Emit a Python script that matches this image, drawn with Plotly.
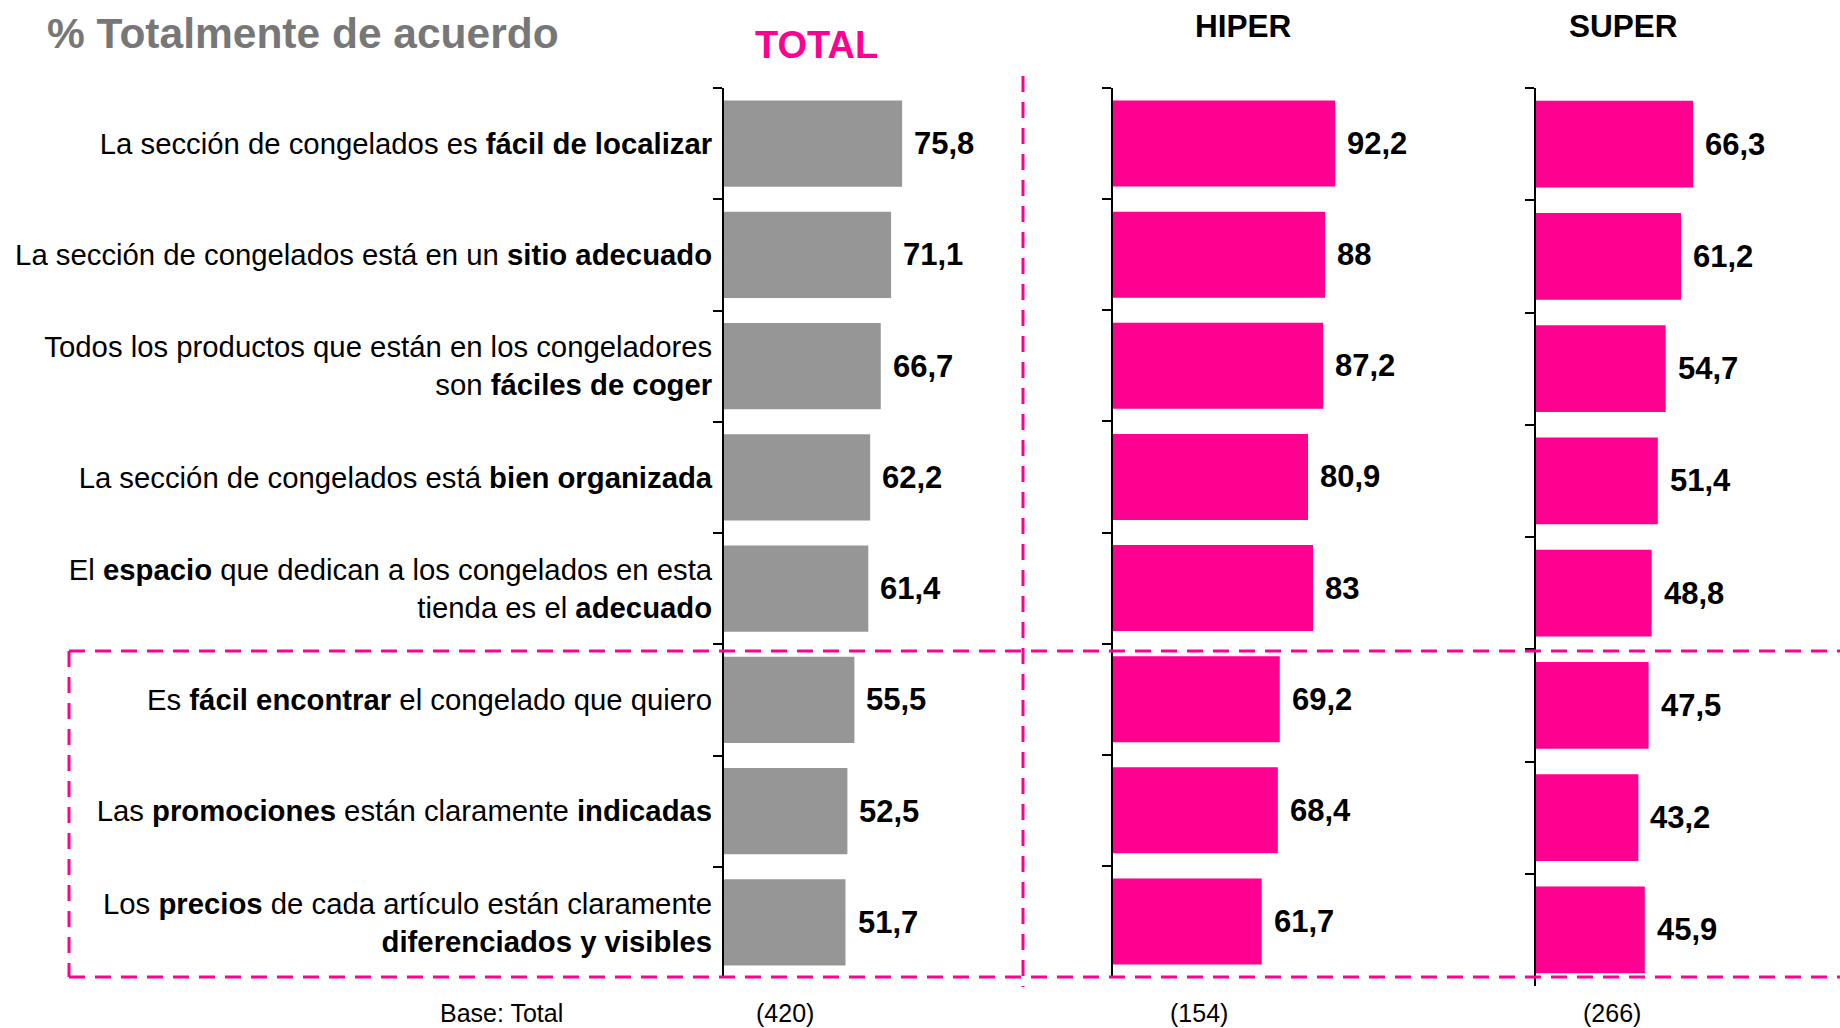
import plotly.graph_objects as go

# ---- data ----
categories = [
    "La sección de congelados es <b>fácil de localizar</b>",
    "La sección de congelados está en un <b>sitio adecuado</b>",
    "Todos los productos que están en los congeladores<br>son <b>fáciles de coger</b>",
    "La sección de congelados está <b>bien organizada</b>",
    "El <b>espacio</b> que dedican a los congelados en esta<br>tienda es el <b>adecuado</b>",
    "Es <b>fácil encontrar</b> el congelado que quiero",
    "Las <b>promociones</b> están claramente <b>indicadas</b>",
    "Los <b>precios</b> de cada artículo están claramente<br><b>diferenciados y visibles</b>",
]
total_vals = [75.8, 71.1, 66.7, 62.2, 61.4, 55.5, 52.5, 51.7]
hiper_vals = [92.2, 88, 87.2, 80.9, 83, 69.2, 68.4, 61.7]
super_vals = [66.3, 61.2, 54.7, 51.4, 48.8, 47.5, 43.2, 45.9]
panel_titles = ["TOTAL", "HIPER", "SUPER"]
bases = ["(420)", "(154)", "(266)"]
base_label = "Base: Total"
chart_title = "% Totalmente de acuerdo"

# ---- style ----
W, H = 1840, 1028
FONT = "Liberation Sans, Arial, sans-serif"
GREY = "#969696"
PINK = "#FF0090"


def fmt(v):
    return f"{v:g}".replace(".", ",")


def px_x(p):
    return p / W


def px_y(p):
    return (H - p) / H


fig = go.Figure()

panels = [
    dict(vals=total_vals, color=GREY, xa="x", ya="y",
         xdom=[px_x(724), px_x(724 + 235)], ydom=[px_y(978), px_y(88)]),
    dict(vals=hiper_vals, color=PINK, xa="x2", ya="y2",
         xdom=[px_x(1113), px_x(1113 + 241)], ydom=[px_y(977), px_y(88)]),
    dict(vals=super_vals, color=PINK, xa="x3", ya="y3",
         xdom=[px_x(1536), px_x(1536 + 237)], ydom=[px_y(986), px_y(88)]),
]

annotations = []
for i, p in enumerate(panels):
    fig.add_trace(go.Bar(
        x=p["vals"], y=categories, orientation="h",
        marker=dict(color=p["color"], line=dict(width=0)),
        xaxis=p["xa"], yaxis=p["ya"], showlegend=False, hoverinfo="x+y",
    ))
    for v, c in zip(p["vals"], categories):
        annotations.append(dict(
            x=v, y=c, xref=p["xa"], yref=p["ya"], text=fmt(v),
            showarrow=False, xanchor="left", yanchor="middle", xshift=10,
            font=dict(family=FONT, size=31, color="black", weight="bold"),
        ))

axis_common_y = dict(
    type="category", autorange="reversed", showline=True, linecolor="black",
    linewidth=2, ticks="outside", ticklen=9, tickwidth=2, tickcolor="black",
    tickson="boundaries", showgrid=False, zeroline=False,
)
axis_common_x = dict(range=[0, 100], visible=False, showgrid=False, zeroline=False)

layout_axes = {}
for i, p in enumerate(panels):
    sx = "" if i == 0 else str(i + 1)
    layout_axes["xaxis" + sx] = dict(axis_common_x, domain=p["xdom"], anchor="y" + sx)
    ydict = dict(axis_common_y, domain=p["ydom"], anchor="x" + sx)
    if i == 0:
        ydict.update(showticklabels=True, ticklabelstandoff=4,
                     tickfont=dict(family=FONT, size=29.3, color="black"))
    else:
        ydict.update(showticklabels=False)
    layout_axes["yaxis" + sx] = ydict

# titles
annotations.append(dict(x=px_x(45), y=px_y(33), xref="paper", yref="paper",
                        text=f"<b>{chart_title}</b>", showarrow=False,
                        xanchor="left", yanchor="middle",
                        font=dict(family=FONT, size=42.5, color="#777777")))
title_pos = [(816, 45, PINK, 38), (1243, 26, "black", 31.5), (1623, 26, "black", 31.5)]
for t, (cx, cy, col, sz) in zip(panel_titles, title_pos):
    annotations.append(dict(x=px_x(cx), y=px_y(cy), xref="paper", yref="paper",
                            text=f"<b>{t}</b>", showarrow=False,
                            xanchor="center", yanchor="middle",
                            font=dict(family=FONT, size=sz, color=col)))
# bases
annotations.append(dict(x=px_x(501), y=px_y(1013), xref="paper", yref="paper",
                        text=base_label, showarrow=False, xanchor="center",
                        yanchor="middle", font=dict(family=FONT, size=25, color="black")))
for b, cx in zip(bases, [785, 1199, 1612]):
    annotations.append(dict(x=px_x(cx), y=px_y(1013), xref="paper", yref="paper",
                            text=b, showarrow=False, xanchor="center",
                            yanchor="middle", font=dict(family=FONT, size=25, color="black")))

dash = dict(color=PINK, width=3, dash="16px,10px")
shapes = [
    dict(type="line", xref="paper", yref="paper", x0=px_x(1023), x1=px_x(1023),
         y0=px_y(76), y1=px_y(987), line=dash, layer="above"),
    dict(type="line", xref="paper", yref="paper", x0=px_x(69), x1=1.0,
         y0=px_y(651), y1=px_y(651), line=dash, layer="above"),
    dict(type="line", xref="paper", yref="paper", x0=px_x(69), x1=1.0,
         y0=px_y(977), y1=px_y(977), line=dash, layer="above"),
    dict(type="line", xref="paper", yref="paper", x0=px_x(69), x1=px_x(69),
         y0=px_y(651), y1=px_y(977), line=dash, layer="above"),
]

fig.update_layout(
    width=W, height=H, margin=dict(l=0, r=0, t=0, b=0),
    paper_bgcolor="white", plot_bgcolor="white",
    bargap=0.225, annotations=annotations, shapes=shapes,
    font=dict(family=FONT, color="black"),
    **layout_axes,
)

fig.write_html(
    "out.html",
    config={"displayModeBar": False},
    post_script="document.body.style.margin='0';document.body.style.overflow='hidden';",
)
